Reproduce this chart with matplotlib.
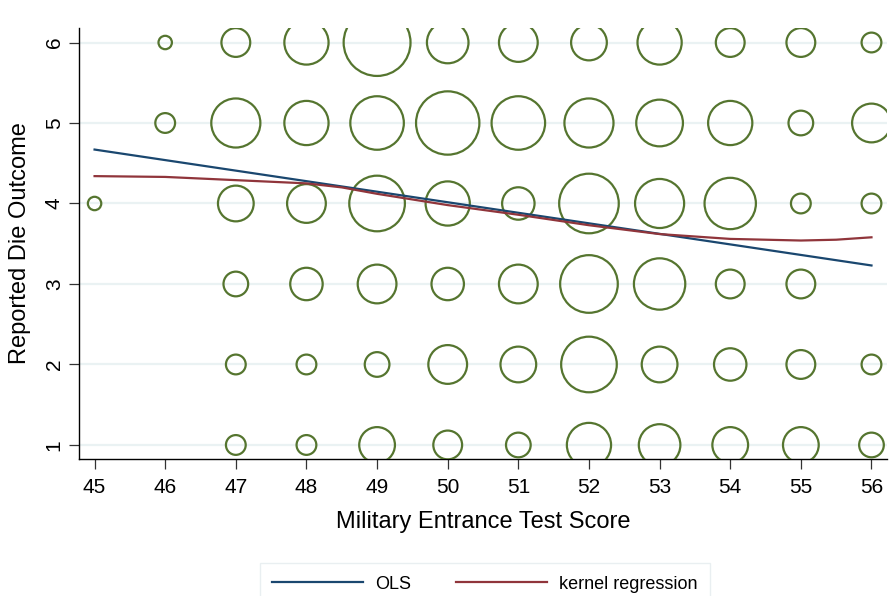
import matplotlib
matplotlib.use("Agg")
import matplotlib.pyplot as plt
import numpy as np

plt.rcParams["font.family"] = ["Liberation Sans", "DejaVu Sans"]

# frequencies of (test score, die outcome) pairs
scores = [45, 46, 47, 48, 49, 50, 51, 52, 53, 54, 55, 56]
outcomes = [6, 5, 4, 3, 2, 1]
counts = {
    6: [0, 1, 4, 9, 20, 8, 7, 6, 9, 4, 4, 2],
    5: [0, 2, 11, 9, 13, 18, 13, 11, 10, 9, 3, 7],
    4: [1, 0, 6, 7, 14, 9, 5, 16, 11, 12, 2, 2],
    3: [0, 0, 3, 5, 7, 5, 7, 15, 12, 4, 4, 0],
    2: [0, 0, 2, 2, 3, 7, 6, 14, 6, 5, 4, 2],
    1: [0, 0, 2, 2, 6, 4, 3, 9, 8, 6, 6, 3],
}

# fitted lines
ols_x = [45, 56]
ols_y = [4.67, 3.23]
kern_x = [45, 46, 46.5, 47, 47.5, 48, 48.5, 49, 50, 51, 52, 53, 54, 55, 55.5, 56]
kern_y = [4.34, 4.33, 4.31, 4.29, 4.27, 4.25, 4.20, 4.12, 3.98, 3.86, 3.73,
          3.62, 3.56, 3.54, 3.55, 3.58]

navy = "#1a476f"
maroon = "#90353b"
green = "#55752f"

fig = plt.figure(figsize=(8.93, 5.96), dpi=100)
ax = fig.add_axes([0.0885, 0.2299, 0.9048, 0.7231])

xs, ys, cs = [], [], []
for o in outcomes:
    for s, c in zip(scores, counts[o]):
        if c > 0:
            xs.append(s)
            ys.append(o)
            cs.append(c)
cs = np.array(cs, dtype=float)
r_px = 7.7 * np.sqrt(cs) - 1.0
sizes = (2 * r_px * 72 / 100) ** 2

ax.scatter(xs, ys, s=sizes, facecolors="none", edgecolors=green,
           linewidths=1.6, zorder=3)
ols_line, = ax.plot(ols_x, ols_y, color=navy, lw=1.6, zorder=4)
kern_line, = ax.plot(kern_x, kern_y, color=maroon, lw=1.6, zorder=4)

ax.set_xlim(44.78, 56.22)
ax.set_ylim(0.826, 6.18)
ax.set_xticks(scores)
ax.set_yticks([1, 2, 3, 4, 5, 6])
ax.grid(axis="y", color="#eaf2f3", lw=1.6, zorder=0)
ax.set_axisbelow(True)
for side in ["top", "right"]:
    ax.spines[side].set_visible(False)
for side in ["left", "bottom"]:
    ax.spines[side].set_linewidth(1.0)
ax.tick_params(axis="both", direction="out", length=7, width=0.9,
               labelsize=15, color="#333333")
ax.tick_params(axis="x", pad=7)
ax.tick_params(axis="y", pad=4)
for lab in ax.get_yticklabels():
    lab.set_rotation(90)
    lab.set_va("center")

ax.set_xlabel("Military Entrance Test Score", fontsize=17, labelpad=10)
ax.set_ylabel("Reported Die Outcome", fontsize=17, labelpad=10)

leg = fig.legend([ols_line, kern_line], ["OLS", "kernel regression"],
                 loc="upper center", bbox_to_anchor=(485 / 893, 1 - 554 / 596),
                 ncol=2, fontsize=13, frameon=True, fancybox=False,
                 edgecolor="#e4ecee", handlelength=5.0, handletextpad=0.7,
                 columnspacing=2.5, borderpad=0.7)
leg.get_frame().set_linewidth(1.0)

fig.savefig("out.png", dpi=100)
